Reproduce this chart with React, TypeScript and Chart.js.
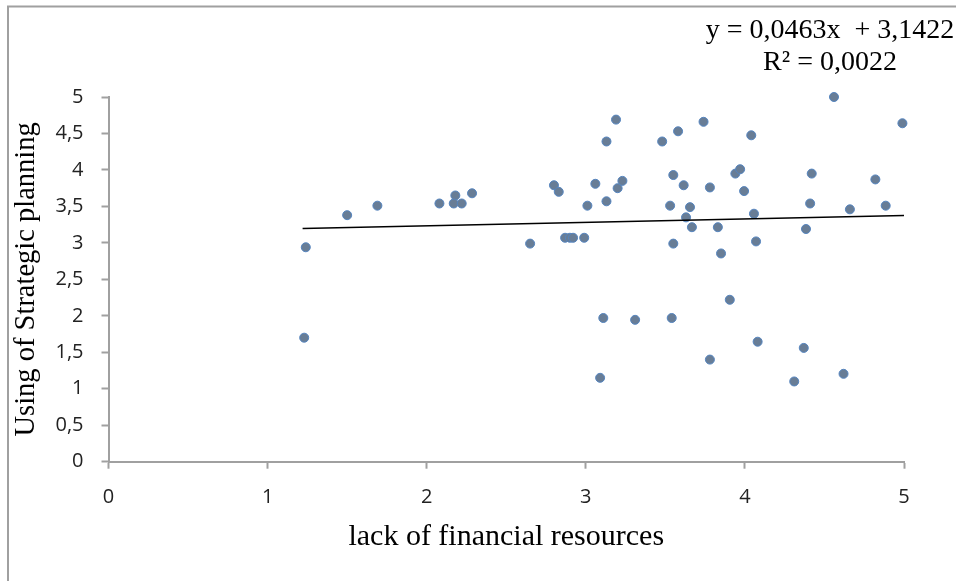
import React, { useEffect, useRef } from "react";
import { Chart, registerables } from "chart.js";

Chart.register(...registerables);

// ---- data ----
const xValues = [
  1.24, 1.5, 1.69, 1.23, 2.08, 2.18, 2.17, 2.22, 2.285, 2.65,
  2.8, 2.83, 2.87, 2.9, 2.92, 2.99, 3.01, 3.06, 3.13, 3.13,
  3.19, 3.2, 3.23, 3.48, 3.58, 3.74, 4.04, 4.56, 4.99, 3.55,
  3.615, 3.78, 3.94, 3.97, 3.995, 4.42, 4.82, 3.53, 3.655, 3.63,
  3.667, 3.83, 4.057, 4.41, 4.66, 4.885, 4.384, 3.55, 4.07, 3.85,
  3.11, 3.31, 3.54, 3.905, 4.08, 4.37, 3.78, 3.09, 4.31, 4.62,
];
const yValues = [
  2.94, 3.38, 3.51, 1.7, 3.54, 3.65, 3.54, 3.54, 3.68, 2.99,
  3.79, 3.7, 3.07, 3.07, 3.07, 3.07, 3.51, 3.81, 3.57, 4.39,
  4.69, 3.75, 3.85, 4.39, 4.53, 4.66, 4.475, 5.0, 4.64, 3.93,
  3.79, 3.76, 3.95, 4.01, 3.71, 3.95, 3.87, 3.51, 3.49, 3.35,
  3.215, 3.215, 3.4, 3.54, 3.46, 3.51, 3.19, 2.99, 3.02, 2.855,
  1.97, 1.945, 1.97, 2.22, 1.645, 1.56, 1.4, 1.15, 1.1, 1.205,
];
const trendSlope = 0.0463;
const trendIntercept = 3.1422;
const trendStartX = 1.22;
const trendEndX = 5;
const equationLines = ["y = 0,0463x  + 3,1422", "R² = 0,0022"];

const xTicks = [0, 1, 2, 3, 4, 5];
const xTickLabels = ["0", "1", "2", "3", "4", "5"];
const yTicks = [0, 0.5, 1, 1.5, 2, 2.5, 3, 3.5, 4, 4.5, 5];
const yTickLabels = ["0", "0,5", "1", "1,5", "2", "2,5", "3", "3,5", "4", "4,5", "5"];

const xTitle = "lack of financial resources";
const yTitle = "Using of Strategic planning";

const AXIS = "#a0a0a0";
const SERIF = "'Liberation Serif', 'Times New Roman', serif";
const SANS = "'Open Sans', 'Noto Sans', sans-serif";

export default function App() {
  const ref = useRef<HTMLCanvasElement | null>(null);

  useEffect(() => {
    if (!ref.current) return;
    const points = xValues.map((x, i) => ({ x, y: yValues[i] }));
    const trend = [trendStartX, trendEndX].map((x) => ({ x, y: trendSlope * x + trendIntercept }));

    const framePlugin = {
      id: "frame",
      beforeDraw(chart: any) {
        const ctx = chart.ctx;
        ctx.save();
        ctx.fillStyle = "#fff";
        ctx.fillRect(0, 0, chart.width, chart.height);
        ctx.strokeStyle = AXIS;
        ctx.lineWidth = 2;
        ctx.beginPath();
        ctx.moveTo(8, chart.height + 5);
        ctx.lineTo(8, 6.5);
        ctx.lineTo(chart.width + 5, 6.5);
        ctx.stroke();
        ctx.restore();
      },
      afterDraw(chart: any) {
        const ctx = chart.ctx;
        ctx.save();
        ctx.fillStyle = "#000";
        ctx.font = `28px ${SERIF}`;
        ctx.textAlign = "center";
        ctx.textBaseline = "middle";
        ctx.fillText(equationLines[0], 830, 31);
        ctx.fillText(equationLines[1], 830, 63);
        ctx.restore();
      },
    };

    const chart = new Chart(ref.current, {
      type: "scatter",
      data: {
        datasets: [
          {
            type: "line",
            data: trend,
            borderColor: "#000",
            borderWidth: 1.5,
            pointRadius: 0,
            fill: false,
            clip: false,
          } as any,
          {
            data: points,
            backgroundColor: "#687d96",
            borderColor: "#5585c0",
            borderWidth: 1,
            pointRadius: 4.5,
            clip: false,
          } as any,
        ],
      },
      options: {
        animation: false,
        responsive: false,
        devicePixelRatio: 1,
        layout: { padding: { top: 97, right: 52, left: 0, bottom: 0 } },
        plugins: { legend: { display: false }, tooltip: { enabled: false } },
        scales: {
          x: {
            type: "linear",
            min: 0,
            max: 5,
            afterBuildTicks: (s: any) => {
              s.ticks = xTicks.map((v) => ({ value: v }));
            },
            afterFit: (s: any) => {
              s.height = 119.3;
            },
            ticks: {
              callback: (v: any) => xTickLabels[xTicks.indexOf(Number(v))] ?? "",
              font: { family: SANS, size: 20 },
              color: "#222",
              padding: 17,
              maxRotation: 0,
            },
            grid: {
              drawOnChartArea: false,
              drawTicks: true,
              tickLength: 7,
              tickColor: AXIS,
              tickWidth: 2,
            },
            border: { display: true, color: AXIS, width: 2 },
            title: {
              display: true,
              text: xTitle,
              font: { family: SERIF, size: 30 },
              color: "#000",
              padding: { top: 0, bottom: 26 },
            },
          },
          y: {
            type: "linear",
            min: 0,
            max: 5,
            afterBuildTicks: (s: any) => {
              s.ticks = yTicks.map((v) => ({ value: v }));
            },
            afterFit: (s: any) => {
              s.width = 108.5;
            },
            ticks: {
              callback: (v: any) => yTickLabels[yTicks.indexOf(Number(v))] ?? "",
              font: { family: SANS, size: 20 },
              color: "#222",
              padding: 18,
            },
            grid: {
              drawOnChartArea: false,
              drawTicks: true,
              tickLength: 7,
              tickColor: AXIS,
              tickWidth: 2,
            },
            border: { display: true, color: AXIS, width: 2 },
            title: {
              display: true,
              text: yTitle,
              font: { family: SERIF, size: 28.5 },
              color: "#000",
              padding: { top: 9, bottom: 0 },
            },
          },
        },
      },
      plugins: [framePlugin],
    });
    return () => chart.destroy();
  }, []);

  return (
    <div style={{ position: "absolute", left: 0, top: 0, width: 956, height: 581, background: "#fff" }}>
      <canvas ref={ref} width={956} height={581} style={{ display: "block", width: 956, height: 581 }} />
    </div>
  );
}
